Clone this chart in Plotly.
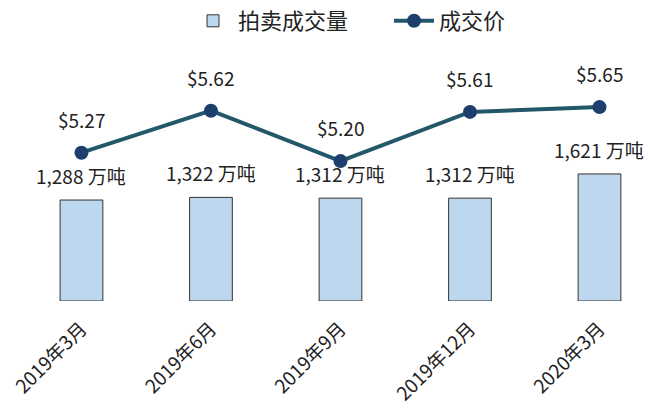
import plotly.graph_objects as go

categories = ["2019年3月", "2019年6月", "2019年9月", "2019年12月", "2020年3月"]
volume = [1288, 1322, 1312, 1312, 1621]
price = [5.27, 5.62, 5.20, 5.61, 5.65]

FONT = "Noto Sans CJK SC"
x_idx = list(range(len(categories)))

fig = go.Figure()
fig.add_trace(go.Bar(
    x=x_idx, y=volume, name="拍卖成交量",
    marker=dict(color="#bdd7ee", line=dict(color="#333333", width=1)),
    width=0.33, yaxis="y",
))
fig.add_trace(go.Scatter(
    x=x_idx, y=price, name="成交价", mode="lines+markers",
    line=dict(color="#23586a", width=4),
    marker=dict(color="#1c3f6e", size=14),
    yaxis="y2",
))

for i, v in enumerate(volume):
    fig.add_annotation(x=i, y=v, yref="y", text=f"{v:,} 万吨", showarrow=False,
                       yanchor="bottom", yshift=9, font=dict(size=19, color="#222222", family=FONT))
for i, p in enumerate(price):
    fig.add_annotation(x=i, y=p, yref="y2", text=f"${p:.2f}", showarrow=False,
                       yanchor="bottom", yshift=18, font=dict(size=19, color="#222222", family=FONT))

fig.update_layout(
    width=650, height=420,
    margin=dict(l=0, r=0, t=40, b=119),
    paper_bgcolor="white", plot_bgcolor="white",
    font=dict(family=FONT, size=19, color="#222222"),
    showlegend=True,
    legend=dict(orientation="h", x=188 / 650, xanchor="left", y=1.0, yanchor="bottom",
                font=dict(size=22, family=FONT), itemwidth=40, traceorder="normal",
                entrywidth=146, entrywidthmode="pixels"),
    xaxis=dict(tickmode="array", tickvals=x_idx, ticktext=categories, tickangle=-45,
               range=[-0.629, 4.39], showgrid=False, zeroline=False, showline=False,
               ticks="", automargin=False, ticklabelstandoff=12,
               tickfont=dict(size=19, family=FONT, color="#222222")),
    yaxis=dict(range=[0, 3304], visible=False, showgrid=False, zeroline=False),
    yaxis2=dict(range=[4.035, 6.192], visible=False, overlaying="y", side="right",
                showgrid=False, zeroline=False),
)

fig.write_html("out.html", config={"displayModeBar": False},
               post_script="document.body.style.margin='0px';")
